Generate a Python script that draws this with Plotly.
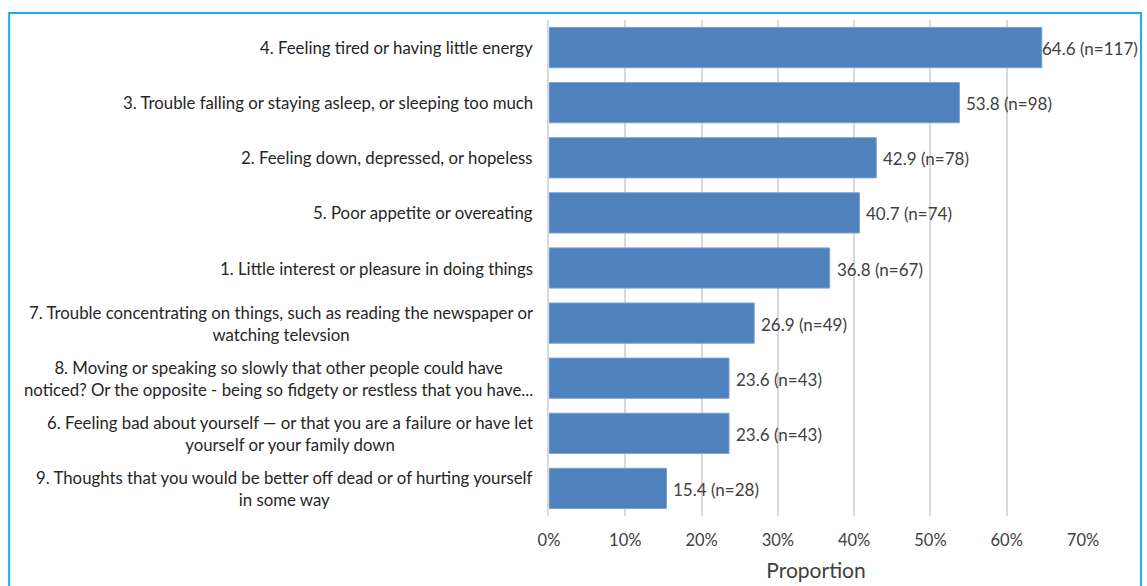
import plotly.graph_objects as go

# Symptom items (top to bottom as displayed)
items = [
    "4. Feeling tired or having little energy",
    "3. Trouble falling or staying asleep, or sleeping too much",
    "2. Feeling down, depressed, or hopeless",
    "5. Poor appetite or overeating",
    "1. Little interest or pleasure in doing things",
    "7. Trouble concentrating on things, such as reading the newspaper or<br>watching televsion",
    "8. Moving or speaking so slowly that other people could have<br>noticed? Or the opposite - being so fidgety or restless that you have...",
    "6. Feeling bad about yourself \u2014 or that you are a failure or have let<br>yourself or your family down",
    "9. Thoughts that you would be better off dead or of hurting yourself<br>in some way",
]
proportions = [64.6, 53.8, 42.9, 40.7, 36.8, 26.9, 23.6, 23.6, 15.4]
counts = [117, 98, 78, 74, 67, 49, 43, 43, 28]
x_ticks = [0, 10, 20, 30, 40, 50, 60, 70]

FONT = "Lato, 'Open Sans', sans-serif"
cat_ids = [f"item{i}" for i in range(len(items))]

fig = go.Figure(
    go.Bar(
        y=cat_ids,
        x=proportions,
        orientation="h",
        marker=dict(color="#4F81BD", line=dict(color="#7AA3D6", width=1)),
        width=0.73,
        hoverinfo="skip",
    )
)

# Category labels: right-aligned block with centred lines
for cid, label in zip(cat_ids, items):
    fig.add_annotation(
        x=0, xref="paper", y=cid, yref="y",
        text=label, showarrow=False,
        xanchor="right", yanchor="middle", align="center",
        xshift=-14,
        font=dict(family=FONT, size=16.8, color="#262626"),
    )

# Value labels at the bar ends
for cid, v, n in zip(cat_ids, proportions, counts):
    fig.add_annotation(
        x=v, xref="x", y=cid, yref="y",
        text=f"{v} (n={n})", showarrow=False,
        xanchor="left", yanchor="middle",
        xshift=-2 if v > 60 else 5, yshift=-1,
        font=dict(family=FONT, size=17, color="#404040"),
    )

# Outer frame
fig.add_shape(
    type="rect", xref="paper", yref="paper",
    x0=-1.011, x1=1.1086, y0=-0.2, y1=1.0141,
    line=dict(color="#1AAFEA", width=2), fillcolor="rgba(0,0,0,0)",
    layer="below",
)

fig.update_layout(
    width=1147, height=586,
    margin=dict(l=549, r=64, t=20, b=70),
    paper_bgcolor="white", plot_bgcolor="white",
    showlegend=False,
    bargap=0.27,
    font=dict(family=FONT, color="#404040"),
    xaxis=dict(
        range=[0, 70],
        tickvals=x_ticks,
        ticktext=[f"{t}%" for t in x_ticks],
        showgrid=True, gridcolor="#D9D9D9", gridwidth=2,
        zeroline=False,
        showline=False,
        automargin=False,
        ticks="outside", ticklen=9, tickcolor="rgba(0,0,0,0)",
        tickfont=dict(family=FONT, size=16.5, color="#404040"),
        title=dict(text="Proportion", standoff=14,
                   font=dict(family=FONT, size=21, color="#404040")),
    ),
    yaxis=dict(
        categoryorder="array",
        categoryarray=cat_ids[::-1],
        showticklabels=False,
        showgrid=False, zeroline=False,
        showline=True, linecolor="#D9D9D9", linewidth=2,
        automargin=False,
        range=[-0.5, len(items) - 0.5],
    ),
)

fig.write_html("out.html")
